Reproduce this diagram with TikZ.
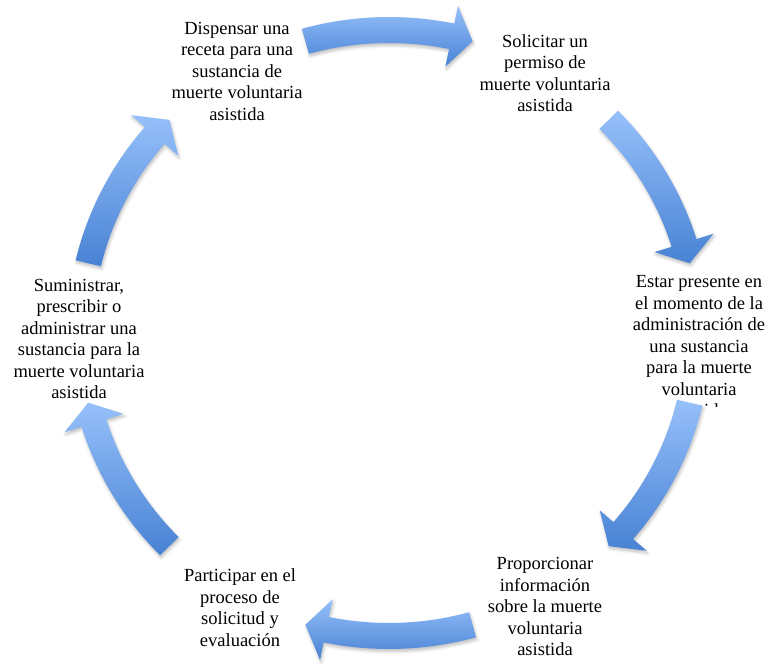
\documentclass[tikz,border=0pt]{standalone}
\usepackage{fontspec}
\setmainfont{Liberation Serif}
\usetikzlibrary{shadows.blur}
\definecolor{arrowlight}{RGB}{150,192,250}
\definecolor{arrowdark}{RGB}{72,130,212}
\tikzset{
steptext/.style={align=center, inner sep=0pt, font=\fontsize{18.5}{21.5}\selectfont},
cyclearrow/.style={top color=arrowlight, bottom color=arrowdark,
  blur shadow={shadow xshift=1pt, shadow yshift=-2.5pt, shadow opacity=25, shadow blur radius=3pt}},
}

\begin{document}
\begin{tikzpicture}[x=1pt,y=1pt]
\useasboundingbox (0,0) rectangle (767,664);
\coordinate (centre) at (389,331);
\node[steptext] (dispensar) at (237,593)
{Dispensar una\\receta para una\\sustancia de\\muerte voluntaria\\asistida};
\node[steptext] (solicitar) at (545,591)
{Solicitar un\\permiso de\\muerte voluntaria\\asistida};
\begin{scope}
\clip (590,257) rectangle (767,420);
\node[steptext] (presente) at (699,317.5)
{Estar presente en\\el momento de la\\administración de\\una sustancia\\para la muerte\\voluntaria\\asistida};
\end{scope}
\node[steptext] (informacion) at (545,57.5)
{Proporcionar\\información\\sobre la muerte\\voluntaria\\asistida};
\node[steptext] (participar) at (240,56.5)
{Participar en el\\proceso de\\solicitud y\\evaluación};
\node[steptext] (suministrar) at (79,325)
{Suministrar,\\prescribir o\\administrar una\\sustancia para la\\muerte voluntaria\\asistida};
\foreach \a in {90,29,-29,-90,-151,151}
\path[cyclearrow, shift={(centre)}]
({\a+15.7}:322 and 316) arc[start angle=\a+15.7, end angle=\a-11.7, x radius=322, y radius=316]
-- ({\a-11.7}:340 and 334) -- ({\a-15.7}:309 and 303) -- ({\a-11.7}:278 and 272)
-- ({\a-11.7}:296 and 290) arc[start angle=\a-11.7, end angle=\a+15.7, x radius=296, y radius=290]
-- cycle;
\end{tikzpicture}
\end{document}
